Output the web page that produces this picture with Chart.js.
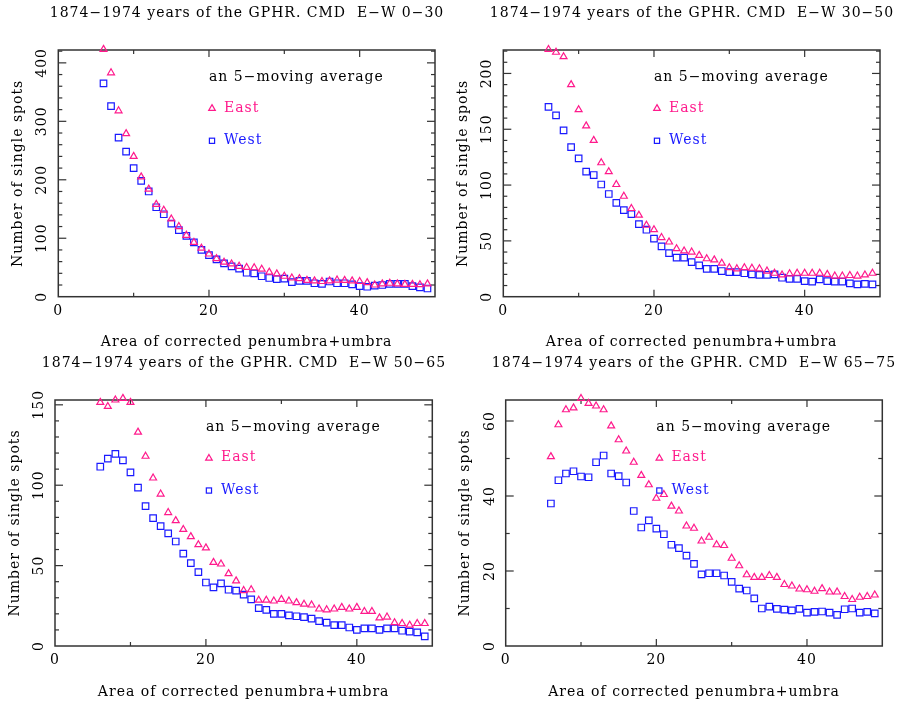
<!DOCTYPE html>
<html>
<head>
<meta charset="utf-8">
<script src="https://cdn.jsdelivr.net/npm/chart.js@4"></script>
<style>
  html, body { margin: 0; padding: 0; background: #fff; }
  body { width: 900px; height: 706px; position: relative; overflow: hidden; }
  canvas { position: absolute; }
</style>
</head>
<body>
<canvas id="p1" width="450" height="353" style="left:0;top:0"></canvas>
<canvas id="p2" width="450" height="353" style="left:450px;top:0"></canvas>
<canvas id="p3" width="450" height="353" style="left:0;top:353px"></canvas>
<canvas id="p4" width="450" height="353" style="left:450px;top:353px"></canvas>
<script>
// ---------------- data ----------------
const areaBins = [6,7,8,9,10,11,12,13,14,15,16,17,18,19,20,21,22,23,24,25,26,27,
                  28,29,30,31,32,33,34,35,36,37,38,39,40,41,42,43,44,45,46,47,48,49];

const east0_30 = [423,383,318,279,240,205,184,158,148,133,120,105,93,83,73,65,59,56,52,50,49.5,47,
                  42,39,35,32,31,28,27,26,27,28.5,28,27,26,24,20,22,23,22,21,21,20.5,22];
const west0_30 = [365,326,272,248,220,198,180,153,141,125,114,104,93,80,71,64,57,52,48,41,40,35,
                  32,30,31,25,27,27,23,22,26,23,23,21,18,17,19,20,22,22,22,18,16,14];

const east30_50 = [221.5,219,215,190,167.5,153,140,120,112,100.5,90,79,73,64,60,53,49,43,41,40,37,34,
                   33,30,26,25,26,25.5,25,23,21,19.5,20.5,21,21,21,21,20,18.5,18.5,19,18.5,19.5,21];
const west30_50 = [170,162.5,149,134,124,112,109,100.5,92,84,77.5,74,65,60,52,45,39,35,35,31,28,25,
                   25,23,22,22,21,20,19.5,19.5,20,17,16,16,14,13.5,15.5,14,13.5,13.5,12,11,11.5,11];

const east50_65 = [151.5,149,153,154,151.5,133,118,104.5,94.5,83,78,72.5,68,63,61,52,51,45,40.5,34.5,35,28.5,
                   28.5,28,29,28,27,26,25.5,23,22.5,23,24,23,24,21.5,21.5,17.5,18,14.5,14,13,14,14];
const west50_65 = [111.5,116.5,119.5,115.5,108,98.5,87,79.5,74.5,70,65,57.5,51.5,46,39.5,36.5,39,35,34.5,32,29,23.5,
                   22.5,20,20,19,18.5,18,17,15.5,14.5,13,13,11.5,10,11,11,10,11,11,9.5,9,8.5,6];

const east65_75 = [50.5,59,63,63.5,66,64.7,64,63,58.7,55,52,49,45.5,43,39.4,40.4,37.3,36,32,31.4,28,29,
                   27,26.8,23.4,21.4,19,18.3,18.3,18.8,18.3,16.4,16,15.2,15,14.6,15.3,14.4,14.4,13.2,12.4,13,13.2,13.6];
const west65_75 = [38,44.2,46,46.6,45.2,45,49,50.8,46,45.3,43.6,36,31.6,33.5,31.3,29.8,27,26.1,24.1,21.9,19.1,19.4,
                   19.4,18.8,17.1,15.3,14.8,12.7,10,10.5,9.9,9.7,9.5,9.9,8.9,9.1,9.2,8.9,8.3,9.8,10,8.9,9.1,8.7];

const panelTitles = [
  '1874\u22121974 years of the GPHR. CMD  E\u2212W 0\u221230',
  '1874\u22121974 years of the GPHR. CMD  E\u2212W 30\u221250',
  '1874\u22121974 years of the GPHR. CMD  E\u2212W 50\u221265',
  '1874\u22121974 years of the GPHR. CMD  E\u2212W 65\u221275'
];
const xAxisTitle = 'Area of corrected penumbra+umbra';
const yAxisTitle = 'Number of single spots';
const legendHeading = 'an 5\u2212moving average';
const seriesNames = ['East', 'West'];

const xMin = 0, xMax = 50, xMajorStep = 20, xMinorStep = 10;
const yMaxes      = [422, 221, 153, 65.6];
const yMajorSteps = [100, 50, 50, 20];
const yMinorSteps = [20, 10, 10, 10];

// ---------------- styling ----------------
const FONT = "'DejaVu Serif', serif";
const EAST_COLOR = '#ff1a8c';
const WEST_COLOR = '#1a1aff';
const FRAME_COLOR = '#333333';

const spacingPlugin = {
  id: 'spacing',
  beforeUpdate(chart) { chart.ctx.letterSpacing = '1px'; },
  beforeDraw(chart) { chart.ctx.letterSpacing = '1px'; }
};

function line(ctx, x1, y1, x2, y2) {
  ctx.beginPath(); ctx.moveTo(x1, y1); ctx.lineTo(x2, y2); ctx.stroke();
}

const framePlugin = {
  id: 'frame',
  beforeDatasetsDraw(chart, args, opts) {
    const {ctx, chartArea: a, scales: {x, y}} = chart;
    ctx.save();
    ctx.strokeStyle = FRAME_COLOR;
    ctx.lineWidth = 1.5;
    ctx.strokeRect(a.left, a.top, a.right - a.left, a.bottom - a.top);
    ctx.lineWidth = 1.2;
    for (let v = x.min + opts.xMinor; v < x.max; v += opts.xMinor) {
      const p = x.getPixelForValue(v);
      const len = (v % opts.xMajor === 0) ? 7 : 4;
      line(ctx, p, a.bottom, p, a.bottom - len);
      line(ctx, p, a.top, p, a.top + len);
    }
    for (let v = y.min + opts.yMinor; v < y.max; v += opts.yMinor) {
      const p = y.getPixelForValue(v);
      const len = (Math.abs(v % opts.yMajor) < 1e-6) ? 8 : 4;
      line(ctx, a.left, p, a.left + len, p);
      line(ctx, a.right, p, a.right - len, p);
    }
    ctx.restore();
  }
};

const textPlugin = {
  id: 'panelText',
  afterDraw(chart, args, opts) {
    const {ctx, chartArea: a} = chart;
    const w = a.right - a.left, h = a.bottom - a.top;
    ctx.save();
    ctx.letterSpacing = '1px';
    ctx.font = '14px ' + FONT;
    ctx.textBaseline = 'middle';
    // panel title
    ctx.fillStyle = '#000';
    ctx.textAlign = 'center';
    ctx.fillText(opts.title, opts.titleX, opts.titleY);
    // legend
    ctx.textAlign = 'left';
    ctx.fillText(legendHeading, a.left + 0.400 * w, a.top + 0.112 * h);
    const mx = a.left + 0.408 * w;
    const yE = a.top + 0.235 * h, yW = a.top + 0.368 * h;
    ctx.lineWidth = 1.2;
    ctx.strokeStyle = EAST_COLOR;
    ctx.beginPath();
    ctx.moveTo(mx, yE - 3.3); ctx.lineTo(mx + 3.3, yE + 2.4); ctx.lineTo(mx - 3.3, yE + 2.4); ctx.closePath();
    ctx.stroke();
    ctx.strokeStyle = WEST_COLOR;
    ctx.strokeRect(mx - 2.6, yW - 2.6, 5.2, 5.2);
    ctx.fillStyle = EAST_COLOR;
    ctx.fillText(seriesNames[0], a.left + 0.440 * w, yE);
    ctx.fillStyle = WEST_COLOR;
    ctx.fillText(seriesNames[1], a.left + 0.440 * w, yW);
    ctx.restore();
  }
};

function pts(values) {
  return areaBins.map((b, i) => ({x: b, y: values[i]}));
}

function makePanel(id, idx, east, west, L) {
  const font = {family: FONT, size: 14};
  new Chart(document.getElementById(id), {
    type: 'scatter',
    data: {
      datasets: [
        {label: seriesNames[0], data: pts(east), pointStyle: 'triangle', radius: 4,
         borderColor: EAST_COLOR, backgroundColor: 'rgba(0,0,0,0)', borderWidth: 1.2, clip: false},
        {label: seriesNames[1], data: pts(west), pointStyle: 'rect', radius: 4.6,
         borderColor: WEST_COLOR, backgroundColor: 'rgba(0,0,0,0)', borderWidth: 1.2, clip: false}
      ]
    },
    options: {
      responsive: false,
      animation: false,
      devicePixelRatio: 1,
      layout: {padding: {top: L.top, right: L.right, left: 0, bottom: 0}},
      plugins: {
        legend: {display: false},
        tooltip: {enabled: false},
        title: {display: false},
        frame: {xMinor: xMinorStep, xMajor: xMajorStep, yMinor: yMinorSteps[idx], yMajor: yMajorSteps[idx]},
        panelText: {title: panelTitles[idx], titleX: L.titleX, titleY: L.titleY}
      },
      scales: {
        x: {
          type: 'linear', min: xMin, max: xMax,
          afterFit: s => { s.height = L.xh; },
          grid: {display: false, drawTicks: false},
          border: {display: false},
          ticks: {stepSize: xMajorStep, includeBounds: false, maxRotation: 0, padding: 6, font, color: '#000'},
          title: {display: true, text: xAxisTitle, font, color: '#000', padding: {top: 0, bottom: L.xtb}}
        },
        y: {
          type: 'linear', min: 0, max: yMaxes[idx],
          afterFit: s => { s.width = L.yw; },
          grid: {display: false, drawTicks: false},
          border: {display: false},
          ticks: {stepSize: yMajorSteps[idx], includeBounds: false, minRotation: 90, maxRotation: 90,
                  crossAlign: 'center', padding: L.ytp, font, color: '#000'},
          title: {display: true, text: yAxisTitle, font, color: '#000', padding: {top: L.ytt, bottom: 0}}
        }
      }
    },
    plugins: [spacingPlugin, framePlugin, textPlugin]
  });
}

makePanel('p1', 0, east0_30, west0_30,
  {top: 50, right: 15, yw: 58.3, xh: 56.3, ytp: 1, ytt: 9.9, xtb: 2.1, titleX: 247, titleY: 13.3});
makePanel('p2', 1, east30_50, west30_50,
  {top: 50, right: 20, yw: 53.3, xh: 56.3, ytp: 1, ytt: 4.9, xtb: 2.1, titleX: 242, titleY: 13.3});
makePanel('p3', 2, east50_65, west50_65,
  {top: 47, right: 17.7, yw: 55, xh: 60, ytp: 0.5, ytt: 6.6, xtb: 4.9, titleX: 244, titleY: 10});
makePanel('p4', 3, east65_75, west65_75,
  {top: 47, right: 17.7, yw: 55.7, xh: 60, ytp: 5.8, ytt: 6.6, xtb: 4.9, titleX: 244, titleY: 10});
</script>
</body>
</html>
